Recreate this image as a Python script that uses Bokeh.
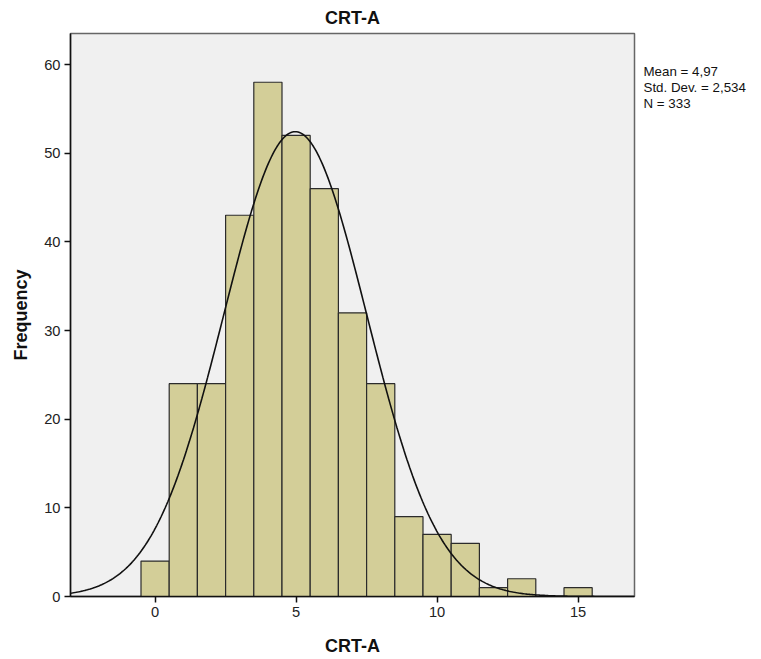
import numpy as np
from bokeh.plotting import figure
from bokeh.layouts import row
from bokeh.models import Label, Range1d, FixedTicker
from bokeh.embed import file_html
from bokeh.resources import INLINE

values = [0, 1, 2, 3, 4, 5, 6, 7, 8, 9, 10, 11, 12, 13, 14, 15]
counts = [4, 24, 24, 43, 58, 52, 46, 32, 24, 9, 7, 6, 1, 2, 0, 1]
mean = 4.97
std = 2.534
n = 333
x_ticks = [0, 5, 10, 15]
y_ticks = [0, 10, 20, 30, 40, 50, 60]
stats = ["Mean = 4,97", "Std. Dev. = 2,534", "N = 333"]

FONT = "Liberation Sans"
H = 658
TOP = 33
BOTTOM = 62

p = figure(width=639, height=H, output_backend="svg", toolbar_location=None,
           x_range=Range1d(-3, 17), y_range=Range1d(0, 63.5),
           min_border_left=70, min_border_right=5, min_border_top=TOP, min_border_bottom=BOTTOM,
           title="CRT-A")
p.title.align = "center"
p.title.text_font = FONT
p.title.text_font_size = "13.5pt"
p.title.text_font_style = "bold"
p.title.text_color = "#111111"
p.title.standoff = 11

p.background_fill_color = "#F0F0F0"
p.border_fill_color = "white"
p.outline_line_color = "#666666"
p.outline_line_width = 1.5
p.grid.visible = False

p.quad(left=[v - 0.5 for v in values], right=[v + 0.5 for v in values],
       bottom=0, top=counts, fill_color="#D3CE98", line_color="#2b2b2b", line_width=1.2)

xs = np.linspace(-3, 17, 400)
ys = n * np.exp(-0.5 * ((xs - mean) / std) ** 2) / (std * np.sqrt(2 * np.pi))
p.line(xs, ys, line_color="#111111", line_width=1.6)

for ax in (p.xaxis[0], p.yaxis[0]):
    ax.major_label_text_font = FONT
    ax.major_label_text_font_size = "11pt"
    ax.major_label_text_color = "#222222"
    ax.axis_label_text_font = FONT
    ax.axis_label_text_font_size = "13.5pt"
    ax.axis_label_text_font_style = "bold"
    ax.axis_label_text_color = "#111111"
    ax.minor_tick_line_color = None
    ax.major_tick_in = 0
    ax.major_tick_out = 6
    ax.major_tick_line_width = 1.5
    ax.axis_line_width = 1.5
    ax.axis_line_color = "#111111"
    ax.major_tick_line_color = "#111111"
    ax.major_label_standoff = 4

p.xaxis.ticker = FixedTicker(ticks=x_ticks)
p.yaxis.ticker = FixedTicker(ticks=y_ticks)
p.xaxis.axis_label = "CRT-A"
p.yaxis.axis_label = "Frequency"
p.xaxis.axis_label_standoff = 16
p.yaxis.axis_label_standoff = 10

s = figure(width=116, height=H, output_backend="svg", toolbar_location=None,
           x_range=Range1d(0, 1), y_range=Range1d(0, 1),
           min_border_left=0, min_border_right=0, min_border_top=TOP, min_border_bottom=BOTTOM,
           outline_line_color=None)
s.axis.visible = False
s.grid.visible = False
s.background_fill_color = "white"
frame_h = H - TOP - BOTTOM
for i, t in enumerate(stats):
    s.add_layout(Label(x=4, y=frame_h - (71 - TOP) - i * 16, x_units="screen", y_units="screen",
                       text=t, text_font=FONT, text_font_size="10pt",
                       text_color="#111111", text_baseline="middle"))

layout = row(p, s)
open("out.html", "w").write(file_html(layout, INLINE))
